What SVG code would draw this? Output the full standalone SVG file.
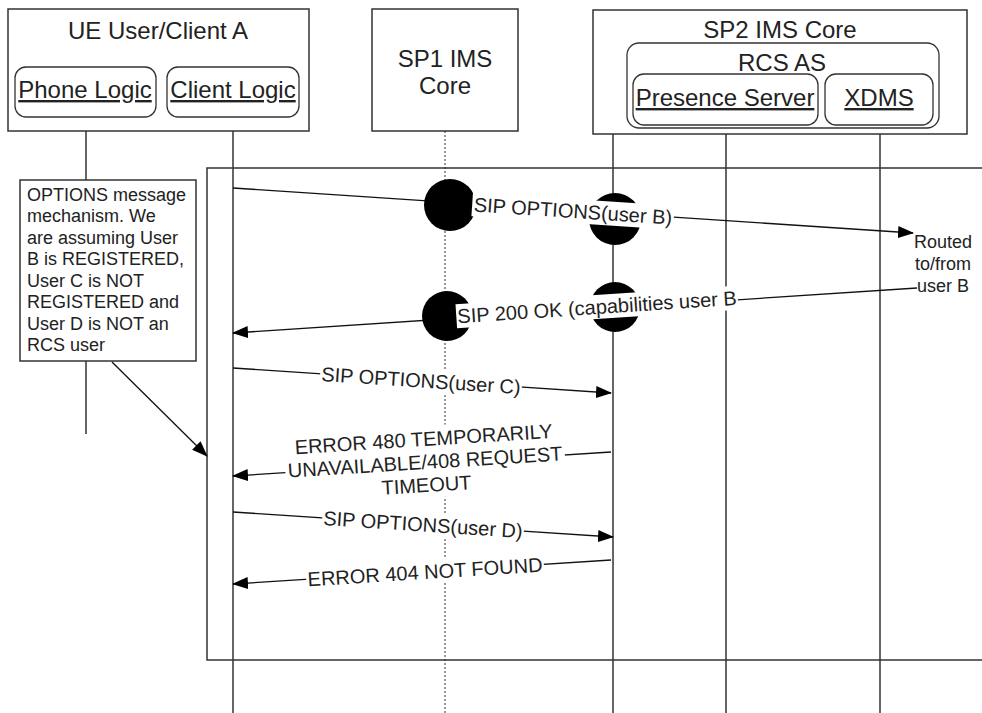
<svg xmlns="http://www.w3.org/2000/svg" width="982" height="713" viewBox="0 0 982 713">
<defs>
<marker id="ah" markerWidth="16" markerHeight="12" refX="15" refY="6" orient="auto" markerUnits="userSpaceOnUse"><path d="M0,0 L16,6 L0,12 z" fill="#000"/></marker>
<style>
.box{fill:#fff;stroke:#333;stroke-width:1.5}
.rbox{fill:#fff;stroke:#333;stroke-width:1.3}
.life{stroke:#333;stroke-width:1.5;fill:none}
.dot{stroke:#777;stroke-width:1.5;stroke-dasharray:2 2;fill:none}
.msg{stroke:#111;stroke-width:1.3;fill:none;marker-end:url(#ah)}
.t{font-family:"Liberation Sans",Arial,sans-serif;fill:#222}
.h{font-size:24px;text-anchor:middle}
.u{text-decoration:underline}
.m{font-size:20px;text-anchor:middle}
.n{font-size:18px}
.bg{fill:#fff}
.blob{fill:#000}
</style>
</defs>
<rect width="982" height="713" fill="#fff"/>

<g id="lifelines">
<line class="life" x1="86" y1="117" x2="86" y2="434"/>
<line class="life" x1="233" y1="117" x2="233" y2="713"/>
<line class="dot" x1="445" y1="131" x2="445" y2="713"/>
<line class="life" x1="613" y1="134" x2="613" y2="713"/>
<line class="life" x1="726" y1="125" x2="726" y2="713"/>
<line class="life" x1="880" y1="125" x2="880" y2="713"/>
</g>

<g id="frame">
<rect x="207" y="168" width="790" height="492" fill="none" stroke="#333" stroke-width="1.5"/>
</g>

<g id="ue">
<rect class="box" x="8" y="9" width="301" height="122"/>
<text class="t h" x="158" y="39">UE User/Client A</text>
<g id="phone-logic">
<rect class="rbox" x="15" y="67" width="141" height="50" rx="11"/>
<text class="t h u" x="85" y="98">Phone Logic</text>
</g>
<g id="client-logic">
<rect class="rbox" x="167" y="67" width="132" height="50" rx="11"/>
<text class="t h u" x="233" y="98">Client Logic</text>
</g>
</g>

<g id="sp1">
<rect class="box" x="372" y="9" width="146" height="122"/>
<text class="t h" x="445" y="67">SP1 IMS</text>
<text class="t h" x="445" y="94">Core</text>
</g>

<g id="sp2">
<rect class="box" x="593" y="10" width="374" height="124"/>
<text class="t h" x="780" y="38">SP2 IMS Core</text>
<g id="rcs-as">
<rect class="rbox" x="627" y="43" width="312" height="85" rx="12"/>
<text class="t h" x="782" y="71">RCS AS</text>
<g id="presence-server">
<rect class="rbox" x="633" y="74" width="185" height="51" rx="11"/>
<text class="t h u" x="725" y="106">Presence Server</text>
</g>
<g id="xdms">
<rect class="rbox" x="825" y="74" width="108" height="51" rx="11"/>
<text class="t h u" x="879" y="106">XDMS</text>
</g>
</g>
</g>

<g id="note">
<rect class="box" x="20" y="180" width="176" height="181"/>
<text class="t n" x="27" y="200.5">OPTIONS message</text>
<text class="t n" x="27" y="222">mechanism. We</text>
<text class="t n" x="27" y="243.5">are assuming User</text>
<text class="t n" x="27" y="265">B is REGISTERED,</text>
<text class="t n" x="27" y="286.5">User C is NOT</text>
<text class="t n" x="27" y="308">REGISTERED and</text>
<text class="t n" x="27" y="329.5">User D is NOT an</text>
<text class="t n" x="27" y="351">RCS user</text>
</g>

<g id="routed">
<text class="t n" x="943" y="248" text-anchor="middle">Routed</text>
<text class="t n" x="943" y="270" text-anchor="middle">to/from</text>
<text class="t n" x="943" y="292" text-anchor="middle">user B</text>
</g>

<g id="connectors">
<line class="msg" x1="112" y1="362" x2="207" y2="456"/>

<line class="msg" x1="233" y1="188" x2="913" y2="233"/>
<circle class="blob" cx="450" cy="205" r="26"/>
<circle class="blob" cx="615" cy="219" r="26"/>
<g transform="translate(573,211) rotate(3.79)"><rect class="bg" x="-101" y="-12" width="202" height="24"/><text class="t m" y="7">SIP OPTIONS(user B)</text></g>

<line class="msg" x1="917" y1="288" x2="233" y2="333"/>
<circle class="blob" cx="447" cy="316" r="25"/>
<circle class="blob" cx="615" cy="307" r="25"/>
<g transform="translate(597,307) rotate(-3.76)"><rect class="bg" x="-141" y="-12" width="282" height="24"/><text class="t m" y="7">SIP 200 OK (capabilities user B</text></g>

<line class="msg" x1="233" y1="368" x2="611" y2="393"/>
<g transform="translate(421,380.5) rotate(3.78)"><rect class="bg" x="-101" y="-12" width="202" height="24"/><text class="t m" y="7">SIP OPTIONS(user C)</text></g>

<line class="msg" x1="611" y1="452" x2="233" y2="476"/>
<g transform="translate(425,462) rotate(-3.6)"><rect class="bg" x="-140" y="-36" width="280" height="72"/><text class="t m" y="-16">ERROR 480 TEMPORARILY</text><text class="t m" y="7">UNAVAILABLE/408 REQUEST</text><text class="t m" y="30">TIMEOUT</text></g>

<line class="msg" x1="233" y1="512" x2="613" y2="537"/>
<g transform="translate(423,524.5) rotate(3.76)"><rect class="bg" x="-101" y="-12" width="202" height="24"/><text class="t m" y="7">SIP OPTIONS(user D)</text></g>

<line class="msg" x1="611" y1="560" x2="233" y2="584"/>
<g transform="translate(425,572) rotate(-3.6)"><rect class="bg" x="-119" y="-12" width="238" height="24"/><text class="t m" y="7">ERROR 404 NOT FOUND</text></g>
</g>
</svg>
